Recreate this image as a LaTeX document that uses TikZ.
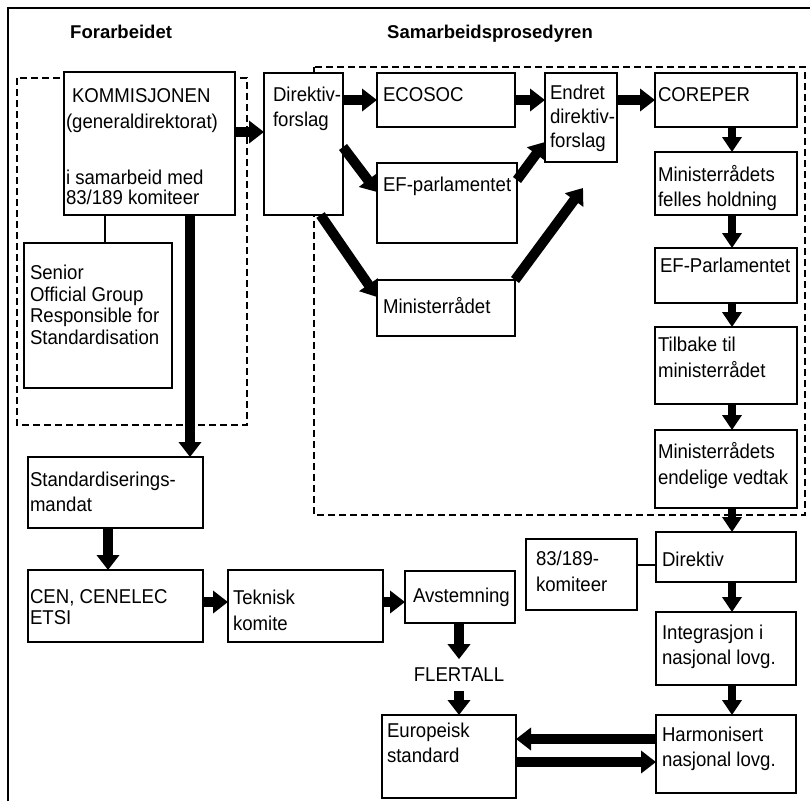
\documentclass[tikz,border=0pt]{standalone}
\usepackage{fontspec}
\setmainfont{Liberation Sans}
\newfontfamily\bodyfont{Liberation Sans}[FakeStretch=0.93]
\usetikzlibrary{arrows.meta,calc}
\newcommand{\mkbox}[5]{\node[bx, minimum width={#4-#2}, minimum height={#5-#3}] (#1) at (#2,#3) {};}
\begin{document}
\begin{tikzpicture}[x=1pt,y=-1pt,
 bx/.style={draw, line width=1.8pt, fill=white, inner sep=0pt, outer sep=0pt, anchor=north west},
 txt/.style={inner sep=0pt, outer sep=0pt, anchor=north west, align=left, font=\bodyfont\fontsize{20}{#1}\selectfont},
 txt/.default=25,
 hdr/.style={inner sep=0pt, anchor=north west, font=\fontsize{18.5}{22}\selectfont\bfseries},
 fat/.style={line width=10pt, -{Triangle[width=22pt,length=15pt]}},
 fatv/.style={line width=8pt, -{Triangle[width=19pt,length=15pt]}},
 thin/.style={line width=1.3pt},
 grp/.style={line width=1.5pt, dash pattern=on 7pt off 4pt}]
\useasboundingbox (0,0) rectangle (810,801);
\fill[white] (0,0) rectangle (810,801);
% frame
\draw[line width=2.6pt] (8,801) -- (8,8) -- (810,8);
% headers
\node[hdr] (h-for) at (70,25) {Forarbeidet};
\node[hdr] (h-sam) at (387,25) {Samarbeidsprosedyren};
% dashed groups
\draw[grp] (17,78) rectangle (247,425);
\draw[grp] (314,67) rectangle (805,515);
% boxes
\mkbox{komm}{64}{72}{235}{215}
\mkbox{senior}{24}{243}{172}{388}
\mkbox{stdm}{28}{457}{203}{528}
\mkbox{cen}{28}{570}{203}{642}
\mkbox{tek}{228}{570}{383}{642}
\mkbox{avst}{405}{571}{515}{623}
\mkbox{euro}{382}{715}{516}{798}
\mkbox{k83}{526}{539}{637}{610}
\mkbox{direk}{656}{532}{796}{582}
\mkbox{integ}{656}{612}{796}{685}
\mkbox{harm}{656}{715}{796}{793}
\mkbox{dir}{264}{73}{343}{215}
\mkbox{ecosoc}{377}{73}{515}{127}
\mkbox{efp}{377}{163}{517}{243}
\mkbox{minr}{377}{280}{515}{336}
\mkbox{endret}{545}{73}{617}{162}
\mkbox{corep}{655}{73}{797}{127}
\mkbox{felles}{655}{152}{797}{215}
\mkbox{efp2}{655}{248}{797}{303}
\mkbox{tilb}{655}{327}{797}{404}
\mkbox{endel}{655}{430}{797}{508}
% texts
\node[txt] (t-komm-a) at (72,89) {KOMMISJONEN};
\node[txt] (t-komm-g) at (66,114) {(generaldirektorat)};
\node[txt=20] (t-komm-b) at (66,170) {i samarbeid med\\83/189 komiteer};
\node[txt=21.5] (t-senior) at (30,265) {Senior\\Official Group\\Responsible for\\Standardisation};
\node[txt] (t-stdm) at (30,472) {Standardiserings-\\mandat};
\node[txt=21] (t-cen) at (30,590) {CEN, CENELEC\\ETSI};
\node[txt=26] (t-tek) at (233,590) {Teknisk\\komite};
\node[txt] (t-avst) at (413,588) {Avstemning};
\node[inner sep=0pt, outer xsep=0pt, outer ysep=9pt, font=\bodyfont\fontsize{20}{24}\selectfont] (flert) at (459,675) {FLERTALL};
\node[txt] (t-euro) at (387,723) {Europeisk\\standard};
\node[txt=26] (t-k83) at (536,551) {83/189-\\komiteer};
\node[txt] (t-direk) at (662,552) {Direktiv};
\node[txt] (t-integ) at (662,625) {Integrasjon i\\nasjonal lovg.};
\node[txt] (t-harm) at (662,727) {Harmonisert\\nasjonal lovg.};
\node[txt] (t-dir) at (273,87) {Direktiv-\\forslag};
\node[txt] (t-ecosoc) at (383,88) {ECOSOC};
\node[txt] (t-efp) at (383,177) {EF-parlamentet};
\node[txt] (t-minr) at (383,297) {Ministerrådet};
\node[txt=24] (t-endret) at (550,85) {Endret\\direktiv-\\forslag};
\node[txt] (t-corep) at (658,88) {COREPER};
\node[txt] (t-felles) at (658,165) {Ministerrådets\\felles holdning};
\node[txt] (t-efp2) at (660,258) {EF-Parlamentet};
\node[txt=26] (t-tilb) at (658,337) {Tilbake til\\ministerrådet};
\node[txt=26] (t-endel) at (658,442) {Ministerrådets\\endelige vedtak};
% thin connectors
\coordinate (c1) at ([xshift=-44.5pt]komm.south);
\draw[thin] (c1) -- (c1 |- senior.north);
\coordinate (c2) at ([yshift=9.5pt]k83.east);
\draw[thin] (c2) -- (c2 -| direk.west);
% fat arrows
\coordinate (a1) at ([yshift=11.5pt]komm.east);
\draw[fat] (a1) -- (a1 -| dir.west);
\draw[fat] (dir.east |- ecosoc.west) -- (ecosoc.west);
\draw[fat] ([yshift=-3pt]dir.east) -- ([yshift=11pt]efp.west);
\draw[fat] ([xshift=17pt]dir.south) -- ([yshift=11pt]minr.west);
\draw[fat] (ecosoc.east) -- (ecosoc.east -| endret.west);
\draw[fat] ([yshift=23pt]efp.east) -- ([yshift=20pt]endret.south west);
\coordinate (mtip) at ([xshift=2pt,yshift=-26pt]endret.south);
\draw[fat] (minr.north east) -- (mtip);
\draw[fat] (endret.east |- corep.west) -- (corep.west);
\foreach \a/\b in {corep/felles, felles/efp2, efp2/tilb, tilb/endel, endel/direk, direk/integ, integ/harm}
  \draw[fatv] ([xshift=6pt]\a.south) -- ([xshift=6pt]\b.north);
\coordinate (b1) at ([xshift=40.5pt]komm.south);
\draw[fat] (b1) -- (b1 |- stdm.north);
\draw[fat] ([xshift=-7.5pt]stdm.south) -- ([xshift=-7.5pt]cen.north);
\draw[fat] ([yshift=4pt]cen.east) -- ([yshift=4pt]tek.west);
\coordinate (b2) at ([yshift=4pt]tek.east);
\draw[fat] (b2) -- (b2 -| avst.west);
\draw[fat] (flert.north |- avst.south) -- (flert.north);
\draw[fat] (flert.south) -- (flert.south |- euro.north);
\coordinate (hh1) at ([yshift=15pt]harm.west);
\draw[fat] (hh1) -- (hh1 -| euro.east);
\coordinate (hh2) at ([yshift=-8pt]harm.west);
\draw[fat] (hh2 -| euro.east) -- (hh2);
\end{tikzpicture}
\end{document}
